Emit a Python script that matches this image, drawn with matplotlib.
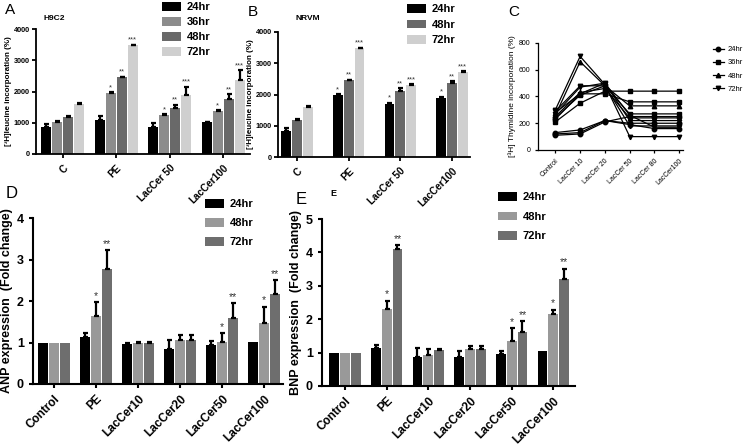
import matplotlib
matplotlib.use("Agg")
import matplotlib.pyplot as plt
import numpy as np
from matplotlib.patches import Patch
from matplotlib.lines import Line2D

plt.rcParams['font.family'] = ['Liberation Sans', 'DejaVu Sans']

W, H = 750, 447
fig = plt.figure(figsize=(7.5, 4.47), dpi=100)

def box(l, r, t, b):
    return [l / W, 1 - b / H, (r - l) / W, (b - t) / H]

# ---- data ----
cats_ab = ["C", "PE", "LacCer 50", "LacCer100"]

a_series = ["24hr", "36hr", "48hr", "72hr"]
a_vals = [[850, 1080, 870, 1010],
          [1030, 1950, 1250, 1370],
          [1200, 2450, 1480, 1760],
          [1600, 3480, 1900, 2380]]
a_err = [[100, 150, 120, 30],
         [20, 30, 20, 30],
         [20, 20, 100, 160],
         [20, 20, 250, 300]]
a_stars = [["", "", "", ""],
           ["", "*", "*", "*"],
           ["", "**", "**", "**"],
           ["", "***", "***", "***"]]

b_series = ["24hr", "48hr", "72hr"]
b_vals = [[840, 1980, 1700, 1900],
          [1200, 2450, 2100, 2380],
          [1600, 3480, 2300, 2720]]
b_err = [[100, 30, 40, 30],
         [20, 20, 100, 40],
         [20, 20, 30, 30]]
b_stars = [["", "*", "*", "*"],
           ["", "**", "**", "**"],
           ["", "***", "***", "***"]]

c_cats = ["Control", "LacCer 10", "LacCer 20", "LacCer 50", "LacCer 80", "LacCer100"]
c_lines = {
    "24hr": [[110, 120, 210, 250, 250, 250],
             [130, 150, 220, 200, 200, 200],
             [120, 130, 220, 190, 160, 160]],
    "36hr": [[210, 350, 440, 440, 440, 440],
             [230, 420, 420, 360, 360, 360],
             [240, 410, 480, 270, 270, 270]],
    "48hr": [[260, 660, 480, 330, 330, 330],
             [250, 430, 460, 240, 240, 240],
             [280, 420, 500, 220, 220, 220]],
    "72hr": [[300, 700, 490, 100, 100, 100],
             [290, 480, 480, 180, 180, 180],
             [270, 470, 500, 260, 170, 170]],
}
c_markers = {"24hr": "o", "36hr": "s", "48hr": "^", "72hr": "v"}

de_cats = ["Control", "PE", "LacCer10", "LacCer20", "LacCer50", "LacCer100"]
de_series = ["24hr", "48hr", "72hr"]
d_vals = [[1.0, 1.14, 0.96, 0.85, 0.94, 1.02],
          [1.0, 1.64, 1.00, 1.07, 1.01, 1.46],
          [1.0, 2.77, 0.99, 1.07, 1.58, 2.18]]
d_err = [[0, 0.10, 0.03, 0.21, 0.10, 0],
         [0, 0.34, 0.02, 0.12, 0.21, 0.40],
         [0, 0.45, 0.03, 0.12, 0.36, 0.32]]
e_vals = [[1.0, 1.13, 0.86, 0.86, 0.96, 1.04],
          [1.0, 2.30, 0.92, 1.10, 1.35, 2.15],
          [1.0, 4.11, 1.07, 1.10, 1.61, 3.21]]
e_err = [[0, 0.10, 0.29, 0.20, 0.09, 0],
         [0, 0.25, 0.18, 0.11, 0.38, 0.14],
         [0, 0.10, 0.05, 0.11, 0.33, 0.30]]
de_stars = [["", "", "", "", "", ""],
            ["", "*", "", "", "*", "*"],
            ["", "**", "", "", "**", "**"]]


def style_axes(ax, lw=1.3):
    for s in ["top", "right"]:
        ax.spines[s].set_visible(False)
    for s in ["left", "bottom"]:
        ax.spines[s].set_linewidth(lw)
    ax.tick_params(width=lw, length=3, direction="out")


def bar_panel(ax, cats, vals, errs, stars, colors, width, step, fs, sfs, soff):
    x = np.arange(len(cats))
    n = len(vals)
    for i in range(n):
        pos = x + (i - (n - 1) / 2) * step
        v = np.array(vals[i])
        e = np.array(errs[i])
        ax.bar(pos, v, width, color=colors[i], zorder=2)
        m = e > 0
        ax.errorbar(pos[m], v[m], yerr=[np.zeros(m.sum()), e[m]], fmt="none",
                    ecolor="black", elinewidth=1.6, capsize=1.8, capthick=1.6, zorder=3)
        for j in range(len(cats)):
            if stars[i][j]:
                ax.text(pos[j], v[j] + e[j] + soff, stars[i][j], ha="center",
                        va="bottom", fontsize=sfs, color="#333333")
    ax.set_xticks(x)
    ax.set_xticklabels(cats, rotation=45, ha="right", rotation_mode="anchor",
                       fontsize=fs, fontweight="bold")


def bold_yticks(ax, fs):
    for lab in ax.get_yticklabels():
        lab.set_fontweight("bold")
        lab.set_fontsize(fs)


def box_legend(ax, labels, colors, x, y, fs, spacing):
    hs = [Patch(facecolor=c, edgecolor="none") for c in colors]
    ax.legend(hs, labels, loc="upper left", bbox_to_anchor=(x / W, 1 - y / H),
              bbox_transform=fig.transFigure, frameon=False,
              prop={"weight": "bold", "size": fs}, handlelength=1.7, handleheight=0.8,
              labelspacing=spacing, handletextpad=0.5, borderaxespad=0, borderpad=0)


# ---- A ----
axA = fig.add_axes(box(36, 250, 29, 154))
colA = ["#000000", "#8c8c8c", "#696969", "#cfcfcf"]
bar_panel(axA, cats_ab, a_vals, a_err, a_stars, colA, 0.19, 0.205, 7.2, 5.5, 30)
axA.set_xlim(-0.5, 3.5)
axA.set_ylim(0, 4000)
axA.set_yticks([0, 1000, 2000, 3000, 4000])
bold_yticks(axA, 5.2)
style_axes(axA)
axA.tick_params(axis="y", pad=1.5)
axA.set_ylabel("[³H]leucine incorporation (%)", fontsize=5.8, fontweight="bold", labelpad=1.5)
box_legend(axA, a_series, colA, 162, 2, 8, 0.45)
fig.text(5 / W, 1 - 10 / H, "A", fontsize=11, va="center", ha="left")
fig.text(43 / W, 1 - 18 / H, "H9C2", fontsize=6, fontweight="bold", va="center")

# ---- B ----
axB = fig.add_axes(box(278, 470, 32, 157))
colB = ["#000000", "#696969", "#cfcfcf"]
bar_panel(axB, cats_ab, b_vals, b_err, b_stars, colB, 0.19, 0.21, 7.2, 5.5, 30)
axB.set_xlim(-0.37, 3.35)
axB.set_ylim(0, 4000)
axB.set_yticks([0, 1000, 2000, 3000, 4000])
bold_yticks(axB, 5.2)
style_axes(axB)
axB.tick_params(axis="y", pad=1.5)
axB.set_ylabel("[³H]leucine incorporation (%)", fontsize=5.8, fontweight="bold", labelpad=1.5)
box_legend(axB, b_series, colB, 407, 4, 8, 0.5)
fig.text(248 / W, 1 - 12 / H, "B", fontsize=11, va="center", ha="left")
fig.text(295 / W, 1 - 18 / H, "NRVM", fontsize=6, fontweight="bold", va="center")

# ---- C ----
axC = fig.add_axes(box(538, 683, 43, 150))
xc = np.arange(len(c_cats))
for name, lines in c_lines.items():
    for ys in lines:
        axC.plot(xc, ys, color="black", lw=0.9, marker=c_markers[name], ms=3.2)
axC.set_xlim(-0.7, 5.15)
axC.set_ylim(0, 800)
axC.set_yticks([0, 200, 400, 600, 800])
axC.set_xticks(xc)
axC.set_xticklabels(c_cats, rotation=45, ha="right", rotation_mode="anchor", fontsize=5)
axC.tick_params(axis="y", labelsize=5)
style_axes(axC, lw=0.9)
axC.tick_params(length=2)
axC.set_ylabel("[³H] Thymidine incorporation (%)", fontsize=6, labelpad=2)
hc = [Line2D([], [], color="black", lw=0.9, marker=c_markers[k], ms=3.2) for k in c_lines]
axC.legend(hc, list(c_lines.keys()), loc="upper left", bbox_to_anchor=(713 / W, 1 - 46 / H),
           bbox_transform=fig.transFigure, frameon=False, fontsize=5.5, handlelength=1.4,
           labelspacing=0.75, handletextpad=0.5, borderaxespad=0, borderpad=0)
fig.text(508 / W, 1 - 12 / H, "C", fontsize=11, va="center", ha="left")

# ---- D ----
colDE = ["#000000", "#999999", "#6e6e6e"]
axD = fig.add_axes(box(33, 283, 218, 384))
bar_panel(axD, de_cats, d_vals, d_err, de_stars, colDE, 0.235, 0.26, 8.5, 7.5, 0.03)
axD.set_xlim(-0.5, 5.45)
axD.set_ylim(0, 4)
axD.set_yticks([0, 1, 2, 3, 4])
bold_yticks(axD, 9)
style_axes(axD, lw=1.5)
axD.set_ylabel("ANP expression  (Fold change)", fontsize=9, fontweight="bold", labelpad=3)
box_legend(axD, de_series, colDE, 205, 199, 8, 0.8)
fig.text(6 / W, 1 - 193 / H, "D", fontsize=12, va="center", ha="left")

# ---- E ----
axE = fig.add_axes(box(322, 575, 219, 386))
bar_panel(axE, de_cats, e_vals, e_err, de_stars, colDE, 0.235, 0.26, 8.5, 7.5, 0.04)
axE.set_xlim(-0.55, 5.52)
axE.set_ylim(0, 5)
axE.set_yticks([0, 1, 2, 3, 4, 5])
bold_yticks(axE, 9)
style_axes(axE, lw=1.5)
axE.set_ylabel("BNP expression  (Fold change)", fontsize=9, fontweight="bold", labelpad=3)
box_legend(axE, de_series, colDE, 498, 192, 8, 0.85)
fig.text(296 / W, 1 - 200 / H, "E", fontsize=12, va="center", ha="left")
fig.text(330 / W, 1 - 193 / H, "E", fontsize=6.5, fontweight="bold", va="center", ha="left")

fig.savefig("out.png", dpi=100)
